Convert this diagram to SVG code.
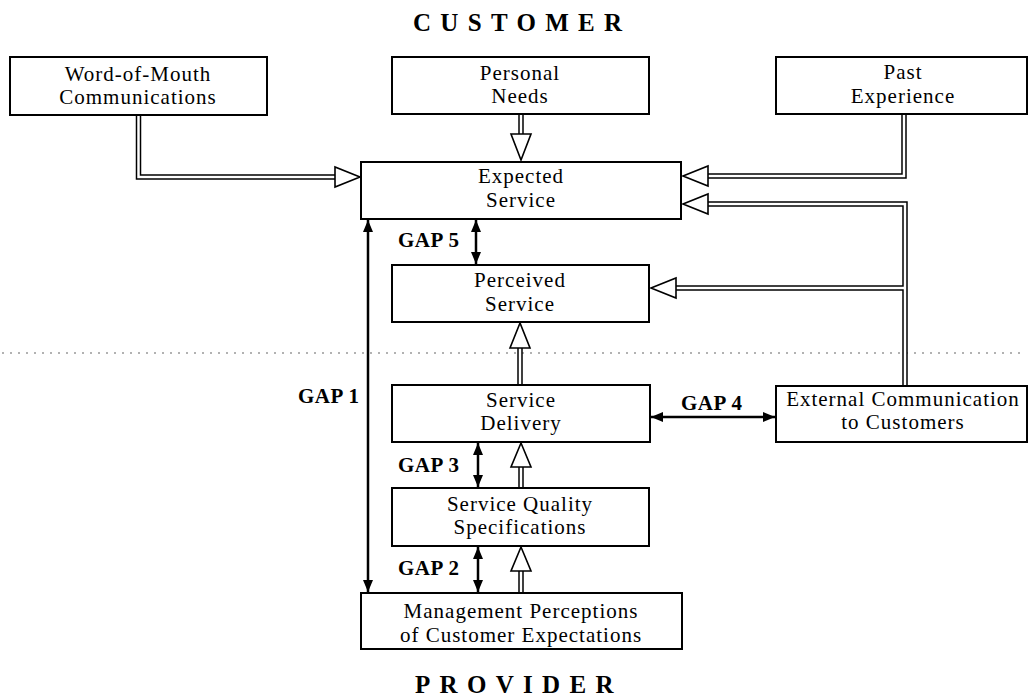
<svg xmlns="http://www.w3.org/2000/svg" width="1028" height="697" viewBox="0 0 1028 697">
  <style>
    .box { fill: #fff; stroke: #000; stroke-width: 2; }
    .lbl { font-family: "Liberation Serif", "Times New Roman", serif; font-size: 21px; letter-spacing: 1px; text-anchor: middle; fill: #000; }
    .gap { font-family: "Liberation Serif", "Times New Roman", serif; font-size: 21px; font-weight: bold; letter-spacing: 0.5px; fill: #000; }
    .title { font-family: "Liberation Serif", "Times New Roman", serif; font-size: 25px; font-weight: bold; letter-spacing: 9.3px; fill: #000; }
    .dbl-out { fill: none; stroke: #000; stroke-width: 5.5; stroke-linejoin: miter; }
    .dbl-in { fill: none; stroke: #fff; stroke-width: 2.5; stroke-linejoin: miter; }
    .head { fill: #fff; stroke: #000; stroke-width: 1.6; stroke-linejoin: miter; }
    .gapline { fill: none; stroke: #000; stroke-width: 2.5; marker-start: url(#tip); marker-end: url(#tip); }
    .divider { fill: none; stroke: #999; stroke-width: 1.5; stroke-dasharray: 2 6; }
  </style>
  <defs>
    <marker id="tip" viewBox="0 0 12 10" refX="12" refY="5" markerWidth="12" markerHeight="10" markerUnits="userSpaceOnUse" orient="auto-start-reverse">
      <path d="M0,0 L12,5 L0,10 z" fill="#000"/>
    </marker>
  </defs>

  <rect width="1028" height="697" fill="#fff"/>

  <!-- customer / provider divide -->
  <line class="divider" x1="2" y1="353" x2="1020" y2="353"/>

  <text class="title" x="413" y="31">CUSTOMER</text>
  <text class="title" x="415" y="693">PROVIDER</text>

  <g id="connectors">
    <!-- hollow double-line flows -->
    <g id="flows">
      <path class="dbl-out" d="M138.5 115 V177 H336"/>
      <path class="dbl-out" d="M521 114 V135"/>
      <path class="dbl-out" d="M904 114 V176 H708"/>
      <path class="dbl-out" d="M905 386 V204 H708"/>
      <path class="dbl-out" d="M905 288 H675"/>
      <path class="dbl-out" d="M520 385 V348"/>
      <path class="dbl-out" d="M521 488 V467"/>
      <path class="dbl-out" d="M521 593 V571"/>

      <path class="dbl-in" d="M138.5 115 V177 H336"/>
      <path class="dbl-in" d="M521 114 V135"/>
      <path class="dbl-in" d="M904 114 V176 H708"/>
      <path class="dbl-in" d="M905 386 V204 H708"/>
      <path class="dbl-in" d="M905 288 H675"/>
      <path class="dbl-in" d="M520 385 V348"/>
      <path class="dbl-in" d="M521 488 V467"/>
      <path class="dbl-in" d="M521 593 V571"/>

      <polygon class="head" points="360,177 335,167 335,187"/>
      <polygon class="head" points="521,160 511,134 531,134"/>
      <polygon class="head" points="683,176 708,166 708,186"/>
      <polygon class="head" points="683,204 708,194 708,214"/>
      <polygon class="head" points="651,288 676,278 676,298"/>
      <polygon class="head" points="520,323 510,348 530,348"/>
      <polygon class="head" points="521,443 511,467 531,467"/>
      <polygon class="head" points="521,547 511,571 531,571"/>
    </g>
    <!-- gap arrows -->
    <g id="gaps">
      <line class="gapline" x1="476" y1="220" x2="476" y2="264"/>
      <line class="gapline" x1="368" y1="220" x2="368" y2="592"/>
      <line class="gapline" x1="478" y1="443" x2="478" y2="487"/>
      <line class="gapline" x1="478" y1="547" x2="478" y2="592"/>
      <line class="gapline" x1="651" y1="417" x2="775" y2="417"/>
    </g>
  </g>

  <g id="word-of-mouth">
    <rect class="box" x="10" y="57" width="257" height="58"/>
    <text class="lbl" x="138" y="81">Word-of-Mouth</text>
    <text class="lbl" x="138" y="104">Communications</text>
  </g>
  <g id="personal-needs">
    <rect class="box" x="392" y="57" width="257" height="57"/>
    <text class="lbl" x="520" y="80">Personal</text>
    <text class="lbl" x="520" y="103">Needs</text>
  </g>
  <g id="past-experience">
    <rect class="box" x="776" y="57" width="251" height="57"/>
    <text class="lbl" x="903" y="79">Past</text>
    <text class="lbl" x="903" y="103">Experience</text>
  </g>
  <g id="expected-service">
    <rect class="box" x="361" y="162" width="320" height="57"/>
    <text class="lbl" x="521" y="183">Expected</text>
    <text class="lbl" x="521" y="207">Service</text>
  </g>
  <g id="perceived-service">
    <rect class="box" x="392" y="265" width="257" height="57"/>
    <text class="lbl" x="520" y="287">Perceived</text>
    <text class="lbl" x="520" y="311">Service</text>
  </g>
  <g id="service-delivery">
    <rect class="box" x="392" y="385" width="258" height="57"/>
    <text class="lbl" x="521" y="407">Service</text>
    <text class="lbl" x="521" y="430">Delivery</text>
  </g>
  <g id="external-communication">
    <rect class="box" x="776" y="386" width="251" height="56"/>
    <text class="lbl" x="903" y="406">External Communication</text>
    <text class="lbl" x="903" y="429">to Customers</text>
  </g>
  <g id="service-quality-specifications">
    <rect class="box" x="392" y="488" width="257" height="58"/>
    <text class="lbl" x="520" y="511">Service Quality</text>
    <text class="lbl" x="520" y="534">Specifications</text>
  </g>
  <g id="management-perceptions">
    <rect class="box" x="361" y="593" width="321" height="56"/>
    <text class="lbl" x="521" y="618">Management Perceptions</text>
    <text class="lbl" x="521" y="642">of Customer Expectations</text>
  </g>

  <g id="gap-labels">
    <text class="gap" x="398" y="247">GAP 5</text>
    <text class="gap" x="298" y="403">GAP 1</text>
    <text class="gap" x="681" y="410">GAP 4</text>
    <text class="gap" x="398" y="472">GAP 3</text>
    <text class="gap" x="398" y="575">GAP 2</text>
  </g>
</svg>
